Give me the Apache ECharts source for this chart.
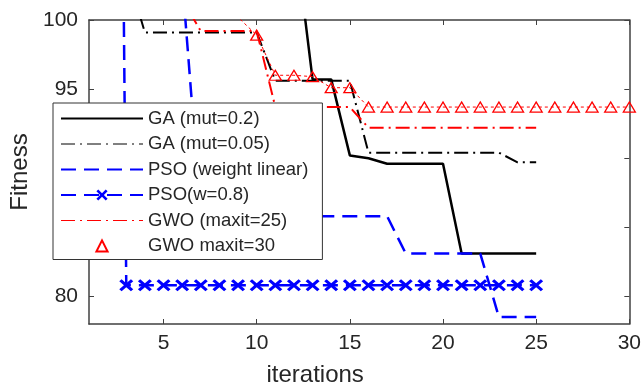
<!DOCTYPE html>
<html>
<head>
<meta charset="utf-8">
<script src="https://cdn.jsdelivr.net/npm/echarts@6/dist/echarts.min.js"></script>
<style>html,body{margin:0;padding:0;background:#fff;}#c{width:644px;height:392px;}</style>
</head>
<body>
<div id="c"></div>
<script>
// iterations (x values)
var iterations = [1,2,3,4,5,6,7,8,9,10,11,12,13,14,15,16,17,18,19,20,21,22,23,24,25,26,27,28,29,30];
// series values (values above 100 are off the top of the plot)
var gaMut02  = [110,110,110,110,110,110,110,110,110,110,110,106.7,95.7,95.7,90.2,90.0,89.6,89.6,89.6,89.6,83.1,83.1,83.1,83.1,83.1];
var gaMut005 = [110,110,103.6,99.1,99.1,99.1,99.1,99.1,99.1,99.1,95.6,95.6,95.6,95.6,95.6,90.4,90.4,90.4,90.4,90.4,90.4,90.4,90.4,89.7,89.7];
var psoLinear = [130,130,130,130,130,103,85.8,85.8,85.8,85.8,85.8,85.8,85.8,85.8,85.8,85.8,85.8,83.1,83.1,83.1,83.1,83.1,78.5,78.5,78.5];
var psoW08   = [230,230,80.8,80.8,80.8,80.8,80.8,80.8,80.8,80.8,80.8,80.8,80.8,80.8,80.8,80.8,80.8,80.8,80.8,80.8,80.8,80.8,80.8,80.8,80.8];
var gwo25    = [110,110,110,110,110,101.5,99.2,99.2,99.2,99.2,93.7,93.7,93.7,93.7,93.7,92.2,92.2,92.2,92.2,92.2,92.2,92.2,92.2,92.2,92.2];
var gwo30    = [110,110,110,110,110,110,110,110,100.2,98.9,96.0,96.0,95.9,95.1,95.1,93.7,93.7,93.7,93.7,93.7,93.7,93.7,93.7,93.7,93.7,93.7,93.7,93.7,93.7,93.7];
// tick labels
var xTicks = [5,10,15,20,25,30];
var yTicks = [80,85,90,95,100];
var seriesNames = ['GA (mut=0.2)','GA (mut=0.05)','PSO (weight linear)','PSO(w=0.8)','GWO (maxit=25)','GWO maxit=30'];

function pairs(vals){ return vals.map(function(v,i){ return [iterations[i], v]; }); }

var FONT = '"Liberation Sans", Arial, sans-serif';
var AX = '#404040';
var TXT = '#262626';
var xMark = 'path://M0,2L2,0L6,4L10,0L12,2L8,6L12,10L10,12L6,8L2,12L0,10L4,6Z';
var dashDot = [14,5,2,5];
var dashed = [15,8];

function xAx(pos, showLabel){
  return {
    type:'value', position:pos, min:1, max:30,
    axisLine:{show:true, onZero:false, lineStyle:{color:AX, width:1.5}},
    axisTick:{show:true, inside:true, length:5, customValues:xTicks, lineStyle:{color:AX, width:1}},
    axisLabel:{show:showLabel, customValues:xTicks, margin:9, color:TXT, fontSize:21, fontFamily:FONT},
    splitLine:{show:false},
    name: showLabel ? 'iterations' : '',
    nameLocation:'middle', nameGap:39,
    nameTextStyle:{color:TXT, fontSize:24, fontFamily:FONT, padding:[0,88,0,0]}
  };
}
function yAx(pos, showLabel){
  return {
    type:'value', position:pos, min:78, max:100,
    axisLine:{show:true, onZero:false, lineStyle:{color:AX, width:1.5}},
    axisTick:{show:true, inside:true, length:5, customValues:yTicks, lineStyle:{color:AX, width:1}},
    axisLabel:{show:showLabel, customValues:yTicks, margin:11, color:TXT, fontSize:21, fontFamily:FONT},
    splitLine:{show:false},
    name: showLabel ? 'Fitness' : '',
    nameLocation:'middle', nameGap:40, nameRotate:90,
    nameTextStyle:{color:TXT, fontSize:24, fontFamily:FONT}
  };
}

var noSym = {opacity:0};
var chart = echarts.init(document.getElementById('c'), null, {renderer:'canvas'});
chart.setOption({
  animation:false,
  backgroundColor:'#fff',
  grid:{left:89, top:20, right:11, bottom:68, containLabel:false},
  xAxis:[xAx('bottom', true), xAx('top', false)],
  yAxis:[yAx('left', true), yAx('right', false)],
  legend:{
    orient:'vertical', left:53, top:103,
    backgroundColor:'#fff', borderColor:'#333', borderWidth:1,
    padding:[6,14,4,7], itemWidth:82, itemHeight:14, itemGap:6.5,
    textStyle:{color:TXT, fontSize:18.5, fontFamily:FONT, lineHeight:18},
    selectedMode:false,
    data:[
      {name:seriesNames[0], itemStyle:noSym},
      {name:seriesNames[1], itemStyle:noSym, lineStyle:{width:1}},
      {name:seriesNames[2], itemStyle:noSym},
      {name:seriesNames[3]},
      {name:seriesNames[4], itemStyle:noSym, lineStyle:{width:1}},
      {name:seriesNames[5], lineStyle:{opacity:0, width:0}}
    ]
  },
  series:[
    {name:seriesNames[0], type:'line', data:pairs(gaMut02), symbol:'none', clip:true,
     lineStyle:{color:'#000', width:2.5, type:'solid'}, itemStyle:{color:'#000'}},
    {name:seriesNames[1], type:'line', data:pairs(gaMut005), symbol:'none', clip:true,
     lineStyle:{color:'#000', width:2, type:dashDot}, itemStyle:{color:'#000'}},
    {name:seriesNames[2], type:'line', data:pairs(psoLinear), symbol:'none', clip:true,
     lineStyle:{color:'#0000ff', width:2.5, type:dashed}, itemStyle:{color:'#0000ff'}},
    {name:seriesNames[3], type:'line', data:pairs(psoW08), symbol:xMark, symbolSize:[14,12], showAllSymbol:true, clip:true,
     lineStyle:{color:'#0000ff', width:2.5, type:dashed}, itemStyle:{color:'#0000ff'}},
    {name:seriesNames[4], type:'line', data:pairs(gwo25), symbol:'none', clip:true,
     lineStyle:{color:'#ff0000', width:2, type:dashDot}, itemStyle:{color:'#ff0000'}},
    {name:seriesNames[5], type:'line', data:pairs(gwo30), symbol:'triangle', symbolSize:[12,10], showAllSymbol:true, clip:true,
     lineStyle:{color:'#ff0000', width:1, type:[3,3]},
     itemStyle:{color:'rgba(255,255,255,0)', borderColor:'#ff0000', borderWidth:1.3}}
  ]
});
</script>
</body>
</html>
